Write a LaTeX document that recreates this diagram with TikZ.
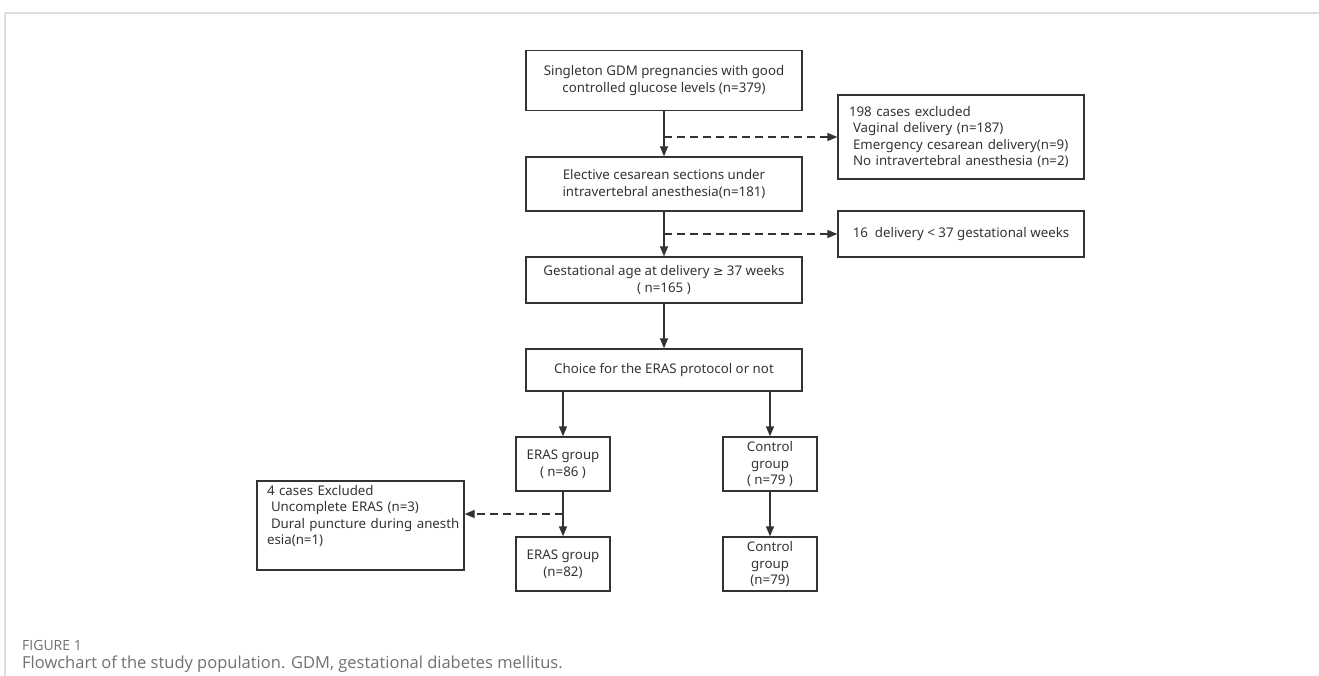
\documentclass[tikz,border=0pt]{standalone}
\usepackage{fontspec}
\setmainfont{Noto Sans}
\newfontfamily\capfont{Open Sans}
\newfontfamily\symfont{DejaVu Sans}
\usetikzlibrary{arrows.meta,calc}
\definecolor{ink}{HTML}{333333}
\definecolor{rulegray}{HTML}{DDDDDD}
\definecolor{capgray}{HTML}{707070}
\tikzset{
	box/.style={draw=ink, line width=1.3pt, text=ink, font=\fontsize{13.3}{16.5}\selectfont, align=center, inner sep=0pt},
	leftbox/.style={box, align=left, inner xsep=11pt},
	arr/.style={draw=ink, line width=1.3pt, -{Triangle[length=10pt,width=8pt]}},
	dasharr/.style={arr, dash pattern=on 8pt off 5pt},
	caplbl/.style={anchor=west, inner sep=0pt, text=capgray},
}

\begin{document}
\begin{tikzpicture}[x=1pt, y=-1pt]
			%%%%% START %%%%%
			\useasboundingbox (0, 0) rectangle (1319, 676);
			
			\draw[rulegray, line width=1.5pt] (5, 13) -- (1319, 13);
			\draw[rulegray, line width=1.5pt] (5, 13) -- (5, 676);
			
			% main column
			\node[box, minimum width=276, minimum height=60] (pop) at (664, 80.5) {Singleton GDM pregnancies with good\\ controlled glucose levels (n=379)};
			\node[box, minimum width=276, minimum height=54] (elect) at (664, 184) {Elective cesarean sections under\\intravertebral anesthesia(n=181)};
			\node[box, minimum width=276, minimum height=46] (term) at (664, 280) {Gestational age at delivery {\symfont\fontsize{12.5}{16.5}\selectfont ≥} 37 weeks\\( n=165 )};
			\node[box, minimum width=276, minimum height=42] (choice) at (664, 370) {Choice for the ERAS protocol or not};
			
			% exclusions
			\node[leftbox, text width=224, minimum height=84] (excla) at (961, 137) {\mbox{198 cases excluded}\\\mbox{\hspace*{4pt}Vaginal delivery (n=187)}\\\mbox{\hspace*{4pt}Emergency cesarean delivery(n=9)}\\\mbox{\hspace*{4pt}No intravertebral anesthesia (n=2)}};
			\node[box, minimum width=246, minimum height=46] (exclb) at (961, 234) {16\ \ delivery < 37 gestational weeks};
			\node[leftbox, inner xsep=10pt, text width=187, minimum height=89] (exclc) at (360.5, 525.5) {\mbox{4 cases Excluded}\\\mbox{\hspace*{4pt}Uncomplete ERAS (n=3)}\\\mbox{\hspace*{4pt}Dural puncture during anesth}\\\mbox{esia(n=1)}\\\strut};
			
			% groups
			\node[box, minimum width=94, minimum height=54] (erasa) at (563, 464) {ERAS group\\( n=86 )};
			\node[box, minimum width=94, minimum height=54] (ctrla) at (770, 464) {Control\\group\\( n=79 )};
			\node[box, minimum width=94, minimum height=54] (erasb) at (563, 564) {ERAS group\\(n=82)};
			\node[box, minimum width=94, minimum height=54] (ctrlb) at (770, 564) {Control\\group\\(n=79)};
			
			% connectors
			\draw[arr] (pop) -- (elect);
			\draw[arr] (elect) -- (term);
			\draw[arr] (term) -- (choice);
			\draw[arr] (choice.south -| erasa.north) -- (erasa);
			\draw[arr] (choice.south -| ctrla.north) -- (ctrla);
			\draw[arr] (erasa) -- (erasb);
			\draw[arr] (ctrla) -- (ctrlb);
			
			\coordinate (cuta) at (pop.south |- excla.west);
			\coordinate (cutb) at (elect.south |- exclb.west);
			\coordinate (cutc) at ($(erasa.south)!0.5!(erasb.north)$);
			\draw[dasharr] (cuta) -- (excla.west);
			\draw[dasharr] (cutb) -- (exclb.west);
			\draw[dasharr] (cutc) -- (cutc -| exclc.east);
			
			% caption
			\node[caplbl, font=\capfont\fontsize{14}{16}\selectfont] (figlbl) at (22, 645) {FIGURE 1};
			\node[caplbl, font=\capfont\fontsize{16.5}{19}\selectfont] (figcap) at (22, 664) {Flowchart of the study population. GDM, gestational diabetes mellitus.};
			%%%%% END %%%%%
\end{tikzpicture}
\end{document}
